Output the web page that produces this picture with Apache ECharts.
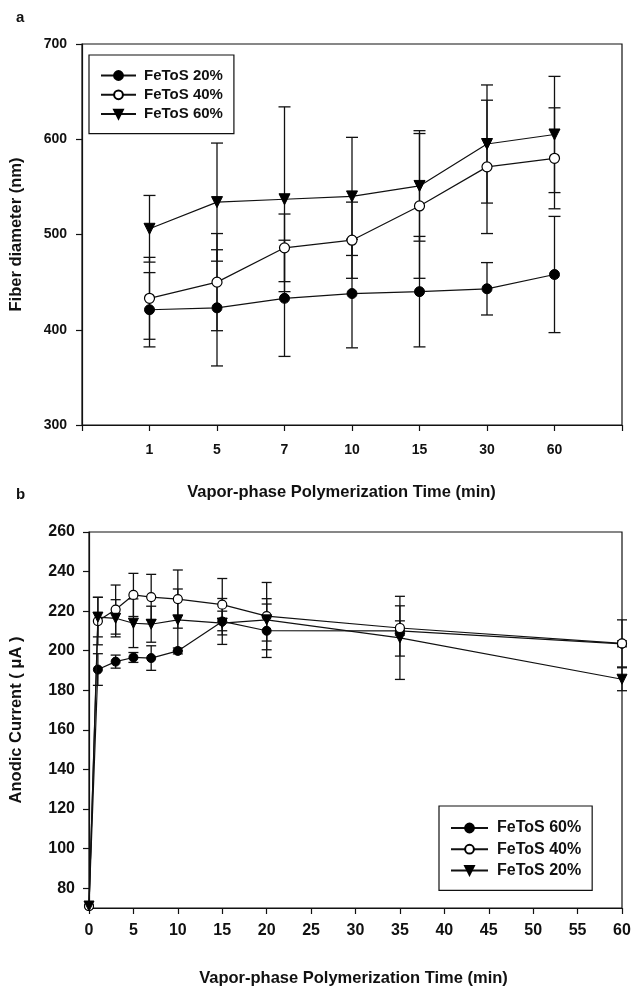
<!DOCTYPE html>
<html>
<head>
<meta charset="utf-8">
<script src="https://cdn.jsdelivr.net/npm/echarts@6/dist/echarts.min.js"></script>
<style>
  html, body { margin: 0; padding: 0; background: #fff; }
  #chart { width: 634px; height: 988px; }
</style>
</head>
<body>
<div id="chart"></div>
<script>
// Panel a: fiber diameter vs. polymerization time (categorical time points)
const timeLabelsA = ['1', '5', '7', '10', '15', '30', '60'];
const dia20 = [421, 423, 433, 438, 440, 443, 458];
const err20 = [39, 61, 61, 57, 58, 27.5, 61];
const dia40 = [433, 450, 486, 494, 530, 571, 580];
const err40 = [43, 51, 35.5, 40, 76, 70, 53];
const dia60 = [506, 534, 537, 540, 551, 595, 605];
const err60 = [35, 62, 97, 62, 58, 62, 61];

// Panel b: anodic current vs. polymerization time
const timesB = [0, 1, 3, 5, 7, 10, 15, 20, 35, 60];
const cur60 = [71, 190.5, 194.5, 196.6, 196.3, 199.9, 214.8, 210.1, 210, 203.5];
const cerr60 = [0, 8, 3.3, 2.5, 6.2, 1.5, 11.6, 13.5, 12.7, 1.5];
const cur40 = [71, 215, 220.8, 228.2, 227.1, 226.1, 223.3, 217.5, 211.5, 203.7];
const cerr40 = [0, 12, 12.4, 10.9, 11.5, 14.7, 13.2, 17, 3.6, 11.9];
const cur20 = [71, 217, 216.4, 213.9, 213.4, 215.6, 214, 215.6, 206.5, 185.6];
const cerr20 = [0, 10, 9.4, 12.3, 9.1, 15.6, 6, 10.7, 21, 5.8];
const yTicksB = [80, 100, 120, 140, 160, 180, 200, 220, 240, 260];

const FONT = '"Liberation Sans", Arial, sans-serif';
const INK = '#111';

const posA = timeLabelsA.map((_, i) => i + 1);

function pairs(xs, ys) { return xs.map((x, i) => [x, ys[i]]); }

// Vertical error bars with end caps, drawn below the data lines
function errorBars(name, xs, ys, es, axisIdx, capHalf) {
  const data = [];
  xs.forEach((x, i) => { if (es[i] > 0) data.push([x, ys[i] - es[i], ys[i] + es[i]]); });
  return {
    type: 'custom',
    name: name + ' err',
    xAxisIndex: axisIdx, yAxisIndex: axisIdx,
    z: 1,
    silent: true,
    encode: { x: 0, y: [1, 2] },
    data: data,
    renderItem: function (params, api) {
      const x = api.value(0);
      const top = api.coord([x, api.value(2)]);
      const bot = api.coord([x, api.value(1)]);
      const st = { stroke: INK, lineWidth: 1.3 };
      return {
        type: 'group',
        children: [
          { type: 'line', shape: { x1: top[0], y1: top[1], x2: bot[0], y2: bot[1] }, style: st },
          { type: 'line', shape: { x1: top[0] - capHalf, y1: top[1], x2: top[0] + capHalf, y2: top[1] }, style: st },
          { type: 'line', shape: { x1: bot[0] - capHalf, y1: bot[1], x2: bot[0] + capHalf, y2: bot[1] }, style: st }
        ]
      };
    }
  };
}

function lineSeries(name, data, axisIdx, kind, size, z) {
  const s = {
    type: 'line',
    name: name,
    xAxisIndex: axisIdx, yAxisIndex: axisIdx,
    data: data,
    z: z,
    symbolSize: size,
    lineStyle: { color: INK, width: 1.2 },
    emphasis: { disabled: true },
    animation: false
  };
  if (kind === 'filled') {
    s.symbol = 'circle';
    s.itemStyle = { color: '#000', borderColor: '#000', borderWidth: 1 };
  } else if (kind === 'open') {
    s.symbol = 'circle';
    s.itemStyle = { color: '#fff', borderColor: '#000', borderWidth: 1.2 };
  } else {
    s.symbol = 'triangle';
    s.symbolRotate = 180;
    s.symbolSize = size + 1;
    s.itemStyle = { color: '#000', borderColor: '#000', borderWidth: 1 };
  }
  return s;
}

const axisLine = { show: true, lineStyle: { color: INK, width: 1.2 } };
const tickStyle = { show: true, inside: false, length: 6, lineStyle: { color: INK, width: 1.2 } };
const titleStyle = { color: '#111', fontFamily: FONT, fontWeight: 'bold', fontSize: 16.5 };

const option = {
  animation: false,
  backgroundColor: '#fff',
  textStyle: { fontFamily: FONT },
  grid: [
    { left: 79, top: 44, width: 543, height: 381, show: true, borderColor: INK, borderWidth: 1.2, backgroundColor: 'transparent' },
    { left: 88, top: 532, width: 534, height: 385, show: true, borderColor: INK, borderWidth: 1.2, backgroundColor: 'transparent' }
  ],
  xAxis: [
    {
      type: 'value', gridIndex: 0, min: 0, max: 8, interval: 1,
      axisLine: axisLine,
      axisTick: tickStyle,
      axisLabel: {
        margin: 18, color: '#111', fontFamily: FONT, fontWeight: 'bold', fontSize: 14,
        formatter: v => timeLabelsA[v - 1] || ''
      },
      splitLine: { show: false },
      name: 'Vapor-phase Polymerization Time (min)',
      nameLocation: 'middle', nameGap: 59,
      nameTextStyle: Object.assign({ padding: [0, 21, 0, 0] }, titleStyle)
    },
    {
      type: 'value', gridIndex: 1, min: 0, max: 60, interval: 5,
      axisLine: axisLine,
      axisTick: tickStyle,
      axisLabel: { margin: 15, color: '#111', fontFamily: FONT, fontWeight: 'bold', fontSize: 16 },
      splitLine: { show: false },
      name: 'Vapor-phase Polymerization Time (min)',
      nameLocation: 'middle', nameGap: 62,
      nameTextStyle: Object.assign({ padding: [0, 4, 0, 0] }, titleStyle)
    }
  ],
  yAxis: [
    {
      type: 'value', gridIndex: 0, min: 300, max: 700, interval: 100,
      axisLine: axisLine,
      axisTick: tickStyle,
      axisLabel: { margin: 15, color: '#111', fontFamily: FONT, fontWeight: 'bold', fontSize: 14 },
      splitLine: { show: false },
      name: 'Fiber diameter (nm)',
      nameLocation: 'middle', nameGap: 57,
      nameTextStyle: titleStyle
    },
    {
      type: 'value', gridIndex: 1, min: 70, max: 260,
      axisLine: axisLine,
      axisTick: Object.assign({ customValues: yTicksB }, tickStyle),
      axisLabel: { margin: 14, customValues: yTicksB, color: '#111', fontFamily: FONT, fontWeight: 'bold', fontSize: 16 },
      splitLine: { show: false },
      name: 'Anodic Current ( \u03BCA )',
      nameLocation: 'middle', nameGap: 64,
      nameTextStyle: titleStyle
    }
  ],
  legend: [
    {
      data: ['FeToS 20%', 'FeToS 40%', 'FeToS 60%'],
      left: 89, top: 55,
      orient: 'vertical',
      padding: [13, 11, 12, 11],
      itemGap: 4.3, itemWidth: 35, itemHeight: 11,
      borderColor: INK, borderWidth: 1.2, backgroundColor: '#fff',
      textStyle: { color: '#111', fontFamily: FONT, fontWeight: 'bold', fontSize: 15, padding: [0, 0, 0, 3] },
      selectedMode: false
    },
    {
      data: ['FeToS 60% ', 'FeToS 40% ', 'FeToS 20% '],
      left: 439, top: 806,
      orient: 'vertical',
      padding: [14, 11, 12, 11],
      itemGap: 5.2, itemWidth: 37, itemHeight: 11,
      borderColor: INK, borderWidth: 1.2, backgroundColor: '#fff',
      textStyle: { color: '#111', fontFamily: FONT, fontWeight: 'bold', fontSize: 16, padding: [0, 0, 0, 4] },
      formatter: n => n.trim(),
      selectedMode: false
    }
  ],
  graphic: [
    { type: 'text', left: 16, top: 10, style: { text: 'a', font: 'bold 15px ' + FONT, fill: '#111' } },
    { type: 'text', left: 16, top: 487, style: { text: 'b', font: 'bold 15px ' + FONT, fill: '#111' } }
  ],
  series: [
    errorBars('a20', posA, dia20, err20, 0, 6),
    errorBars('a40', posA, dia40, err40, 0, 6),
    errorBars('a60', posA, dia60, err60, 0, 6),
    lineSeries('FeToS 20%', pairs(posA, dia20), 0, 'filled', 10, 3),
    lineSeries('FeToS 40%', pairs(posA, dia40), 0, 'open', 10, 4),
    lineSeries('FeToS 60%', pairs(posA, dia60), 0, 'tri', 10, 5),

    errorBars('b60', timesB, cur60, cerr60, 1, 5),
    errorBars('b40', timesB, cur40, cerr40, 1, 5),
    errorBars('b20', timesB, cur20, cerr20, 1, 5),
    lineSeries('FeToS 60% ', pairs(timesB, cur60), 1, 'filled', 9, 3),
    lineSeries('FeToS 40% ', pairs(timesB, cur40), 1, 'open', 9, 4),
    lineSeries('FeToS 20% ', pairs(timesB, cur20), 1, 'tri', 9, 5)
  ]
};

const chart = echarts.init(document.getElementById('chart'), null, { renderer: 'canvas' });
chart.setOption(option);
</script>
</body>
</html>
